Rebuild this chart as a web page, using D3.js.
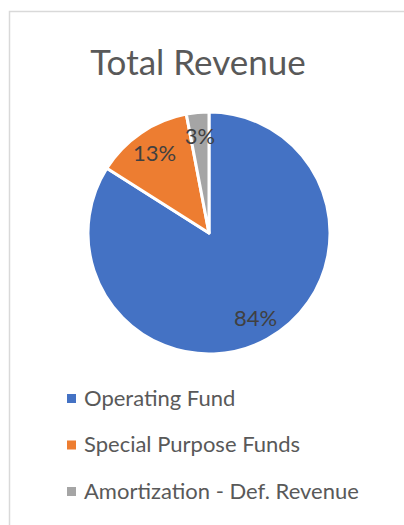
<!DOCTYPE html>
<html>
<head>
<meta charset="utf-8">
<script src="https://cdn.jsdelivr.net/npm/d3@7"></script>
<style>
  html, body { margin: 0; padding: 0; background: #fff; }
  svg { display: block; font-family: Lato, "Open Sans", sans-serif; }
</style>
</head>
<body>
<div id="chart"></div>
<script>
const categories = ["Operating Fund", "Special Purpose Funds", "Amortization - Def. Revenue"];
const shares = [84, 13, 3];
const colors = ["#4472C4", "#ED7D31", "#A5A5A5"];

const width = 404, height = 525;
const cx = 209, cy = 233, radius = 121;

const svg = d3.select("#chart")
    .append("svg")
    .attr("width", width)
    .attr("height", height);

// chart frame (only top and left edges show in the crop)
svg.append("path")
    .attr("d", `M9.5,${height} V11.5 H${width}`)
    .attr("fill", "none")
    .attr("stroke", "#d9d9d9")
    .attr("stroke-width", 1.5);

svg.append("text")
    .attr("x", 198)
    .attr("y", 75)
    .attr("text-anchor", "middle")
    .attr("fill", "#595959")
    .style("font-size", "35px")
    .text("Total Revenue");

const data = categories.map((c, i) => ({ name: c, value: shares[i], color: colors[i] }));

const pie = d3.pie().sort(null).value(d => d.value);
const arc = d3.arc().innerRadius(0).outerRadius(radius);
const labelArc = d3.arc().innerRadius(radius * 0.8).outerRadius(radius * 0.8);

const g = svg.append("g").attr("transform", `translate(${cx},${cy})`);

const arcs = pie(data);

g.selectAll(".slice")
    .data(arcs)
    .enter()
    .append("path")
    .attr("class", "slice")
    .attr("d", arc)
    .attr("fill", d => d.data.color)
    .attr("stroke", "#fff")
    .attr("stroke-width", 3)
    .attr("stroke-linejoin", "round");

g.selectAll(".label")
    .data(arcs)
    .enter()
    .append("text")
    .attr("class", "label")
    .attr("transform", d => `translate(${labelArc.centroid(d)})`)
    .attr("text-anchor", "middle")
    .attr("dy", "0.35em")
    .attr("fill", "#404040")
    .style("font-size", "22px")
    .text(d => d.data.value + "%");

// legend
const legend = svg.selectAll(".legend")
    .data(data)
    .enter()
    .append("g")
    .attr("class", "legend")
    .attr("transform", (d, i) => `translate(67, ${398 + i * 46.5})`);

legend.append("rect")
    .attr("x", 0)
    .attr("y", -4)
    .attr("width", 9)
    .attr("height", 9)
    .attr("fill", d => d.color);

legend.append("text")
    .attr("x", 17)
    .attr("y", 0)
    .attr("dy", "0.35em")
    .attr("fill", "#595959")
    .style("font-size", "22px")
    .text(d => d.name);
</script>
</body>
</html>
